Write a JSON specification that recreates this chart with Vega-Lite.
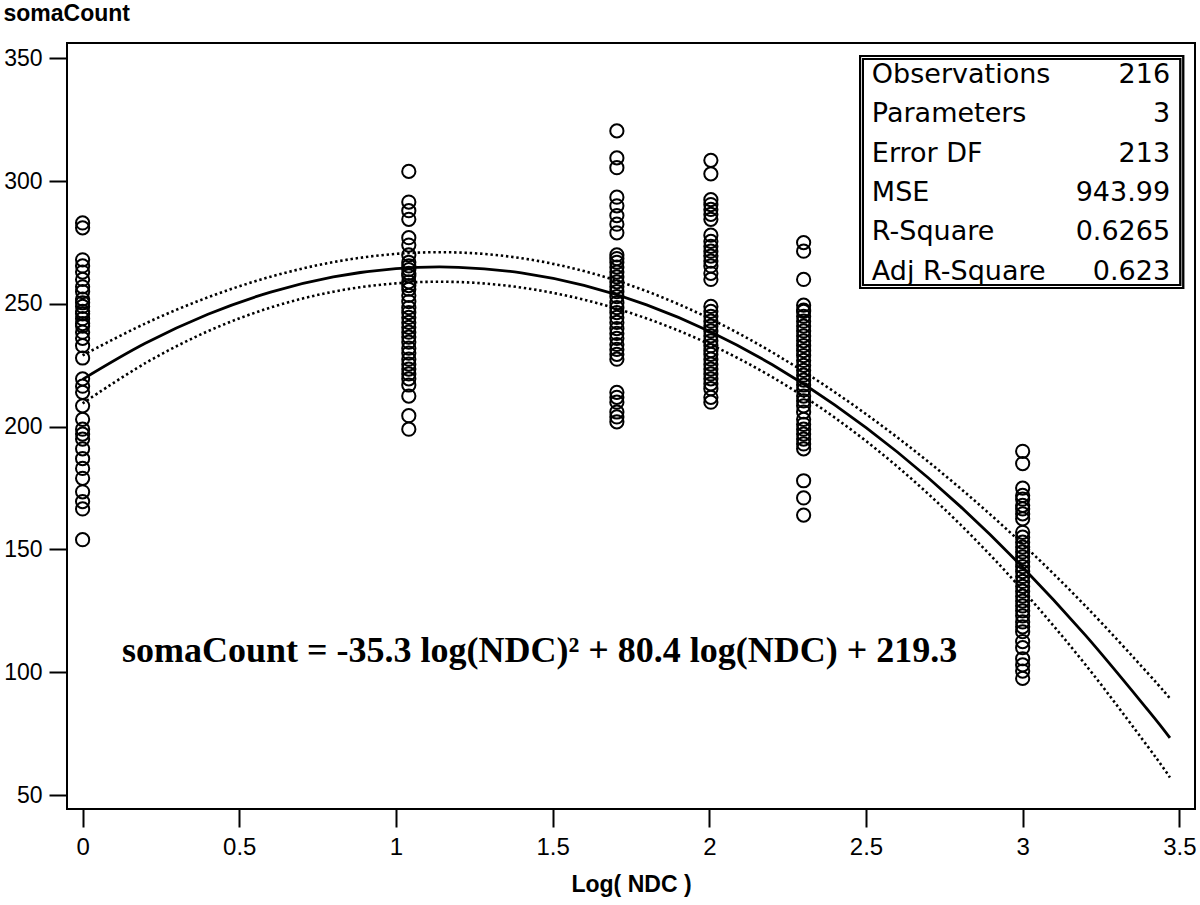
{
"$schema": "https://vega.github.io/schema/vega-lite/v6.json",
"width": 1128, "height": 766,
"autosize": {"type": "none"},
"padding": {"left": 67, "top": 43, "right": 5, "bottom": 96},
"background": "white",
"config": {
 "view": {"stroke": "black", "strokeWidth": 2},
 "axis": {"grid": false, "domain": false, "tickColor": "black", "tickWidth": 2, "tickSize": 18, "labelColor": "black", "labelFont": "Liberation Sans", "labelFontSize": 23, "titleColor": "black", "titleFont": "Liberation Sans", "titleFontWeight": "bold", "titleFontSize": 23}
},
"datasets": {
 "points": [
  {"logNDC":0,"somaCount":283},{"logNDC":0,"somaCount":281},{"logNDC":0,"somaCount":268},{"logNDC":0,"somaCount":265.5},{"logNDC":0,"somaCount":263},{"logNDC":0,"somaCount":260},{"logNDC":0,"somaCount":257},{"logNDC":0,"somaCount":255},{"logNDC":0,"somaCount":252},{"logNDC":0,"somaCount":250.5},{"logNDC":0,"somaCount":249},{"logNDC":0,"somaCount":247},{"logNDC":0,"somaCount":246},{"logNDC":0,"somaCount":244},{"logNDC":0,"somaCount":242},{"logNDC":0,"somaCount":241},{"logNDC":0,"somaCount":238.5},{"logNDC":0,"somaCount":236},{"logNDC":0,"somaCount":233},{"logNDC":0,"somaCount":228},{"logNDC":0,"somaCount":219.5},{"logNDC":0,"somaCount":216.5},{"logNDC":0,"somaCount":214},{"logNDC":0,"somaCount":208.5},{"logNDC":0,"somaCount":203},{"logNDC":0,"somaCount":199},{"logNDC":0,"somaCount":197},{"logNDC":0,"somaCount":195},{"logNDC":0,"somaCount":191},{"logNDC":0,"somaCount":187},{"logNDC":0,"somaCount":183},{"logNDC":0,"somaCount":179},{"logNDC":0,"somaCount":173.5},{"logNDC":0,"somaCount":169.5},{"logNDC":0,"somaCount":166.5},{"logNDC":0,"somaCount":154},
  {"logNDC":1.041,"somaCount":304},{"logNDC":1.041,"somaCount":291.5},{"logNDC":1.041,"somaCount":288},{"logNDC":1.041,"somaCount":284.5},{"logNDC":1.041,"somaCount":277},{"logNDC":1.041,"somaCount":274},{"logNDC":1.041,"somaCount":270},{"logNDC":1.041,"somaCount":267},{"logNDC":1.041,"somaCount":265.5},{"logNDC":1.041,"somaCount":264},{"logNDC":1.041,"somaCount":262.5},{"logNDC":1.041,"somaCount":261.5},{"logNDC":1.041,"somaCount":259},{"logNDC":1.041,"somaCount":257.5},{"logNDC":1.041,"somaCount":256},{"logNDC":1.041,"somaCount":253.5},{"logNDC":1.041,"somaCount":251},{"logNDC":1.041,"somaCount":248.5},{"logNDC":1.041,"somaCount":246.5},{"logNDC":1.041,"somaCount":244.5},{"logNDC":1.041,"somaCount":242.5},{"logNDC":1.041,"somaCount":240.5},{"logNDC":1.041,"somaCount":238.5},{"logNDC":1.041,"somaCount":236.5},{"logNDC":1.041,"somaCount":234.5},{"logNDC":1.041,"somaCount":232},{"logNDC":1.041,"somaCount":230},{"logNDC":1.041,"somaCount":227.5},{"logNDC":1.041,"somaCount":225.5},{"logNDC":1.041,"somaCount":223.5},{"logNDC":1.041,"somaCount":221.5},{"logNDC":1.041,"somaCount":219.5},{"logNDC":1.041,"somaCount":217},{"logNDC":1.041,"somaCount":212.5},{"logNDC":1.041,"somaCount":204.5},{"logNDC":1.041,"somaCount":199},
  {"logNDC":1.705,"somaCount":320.5},{"logNDC":1.705,"somaCount":309.5},{"logNDC":1.705,"somaCount":305.5},{"logNDC":1.705,"somaCount":293.5},{"logNDC":1.705,"somaCount":290},{"logNDC":1.705,"somaCount":286},{"logNDC":1.705,"somaCount":282.5},{"logNDC":1.705,"somaCount":279},{"logNDC":1.705,"somaCount":270},{"logNDC":1.705,"somaCount":268.5},{"logNDC":1.705,"somaCount":267},{"logNDC":1.705,"somaCount":265},{"logNDC":1.705,"somaCount":263},{"logNDC":1.705,"somaCount":261},{"logNDC":1.705,"somaCount":259},{"logNDC":1.705,"somaCount":257},{"logNDC":1.705,"somaCount":255},{"logNDC":1.705,"somaCount":253},{"logNDC":1.705,"somaCount":250.5},{"logNDC":1.705,"somaCount":248.5},{"logNDC":1.705,"somaCount":246.5},{"logNDC":1.705,"somaCount":244.5},{"logNDC":1.705,"somaCount":242.5},{"logNDC":1.705,"somaCount":240},{"logNDC":1.705,"somaCount":238},{"logNDC":1.705,"somaCount":236},{"logNDC":1.705,"somaCount":233.5},{"logNDC":1.705,"somaCount":231.5},{"logNDC":1.705,"somaCount":229.5},{"logNDC":1.705,"somaCount":227.5},{"logNDC":1.705,"somaCount":214},{"logNDC":1.705,"somaCount":212},{"logNDC":1.705,"somaCount":210},{"logNDC":1.705,"somaCount":206},{"logNDC":1.705,"somaCount":204},{"logNDC":1.705,"somaCount":202},
  {"logNDC":2.005,"somaCount":308.5},{"logNDC":2.005,"somaCount":303},{"logNDC":2.005,"somaCount":292.5},{"logNDC":2.005,"somaCount":290.5},{"logNDC":2.005,"somaCount":288.5},{"logNDC":2.005,"somaCount":286.5},{"logNDC":2.005,"somaCount":284.5},{"logNDC":2.005,"somaCount":278},{"logNDC":2.005,"somaCount":275.5},{"logNDC":2.005,"somaCount":273.5},{"logNDC":2.005,"somaCount":271.5},{"logNDC":2.005,"somaCount":269.5},{"logNDC":2.005,"somaCount":267.5},{"logNDC":2.005,"somaCount":265.5},{"logNDC":2.005,"somaCount":262.5},{"logNDC":2.005,"somaCount":260},{"logNDC":2.005,"somaCount":249},{"logNDC":2.005,"somaCount":247},{"logNDC":2.005,"somaCount":245},{"logNDC":2.005,"somaCount":243},{"logNDC":2.005,"somaCount":241},{"logNDC":2.005,"somaCount":239},{"logNDC":2.005,"somaCount":237},{"logNDC":2.005,"somaCount":235},{"logNDC":2.005,"somaCount":233},{"logNDC":2.005,"somaCount":231},{"logNDC":2.005,"somaCount":229.5},{"logNDC":2.005,"somaCount":227.5},{"logNDC":2.005,"somaCount":225.5},{"logNDC":2.005,"somaCount":223.5},{"logNDC":2.005,"somaCount":221.5},{"logNDC":2.005,"somaCount":219.5},{"logNDC":2.005,"somaCount":217.5},{"logNDC":2.005,"somaCount":215.5},{"logNDC":2.005,"somaCount":212},{"logNDC":2.005,"somaCount":210},
  {"logNDC":2.301,"somaCount":275},{"logNDC":2.301,"somaCount":271.5},{"logNDC":2.301,"somaCount":260},{"logNDC":2.301,"somaCount":249.5},{"logNDC":2.301,"somaCount":247.5},{"logNDC":2.301,"somaCount":247},{"logNDC":2.301,"somaCount":245},{"logNDC":2.301,"somaCount":243},{"logNDC":2.301,"somaCount":241},{"logNDC":2.301,"somaCount":239},{"logNDC":2.301,"somaCount":237},{"logNDC":2.301,"somaCount":235},{"logNDC":2.301,"somaCount":233},{"logNDC":2.301,"somaCount":231},{"logNDC":2.301,"somaCount":229},{"logNDC":2.301,"somaCount":227},{"logNDC":2.301,"somaCount":225},{"logNDC":2.301,"somaCount":223},{"logNDC":2.301,"somaCount":221},{"logNDC":2.301,"somaCount":219},{"logNDC":2.301,"somaCount":217},{"logNDC":2.301,"somaCount":215},{"logNDC":2.301,"somaCount":212.5},{"logNDC":2.301,"somaCount":210.5},{"logNDC":2.301,"somaCount":208.5},{"logNDC":2.301,"somaCount":206},{"logNDC":2.301,"somaCount":203},{"logNDC":2.301,"somaCount":201},{"logNDC":2.301,"somaCount":199},{"logNDC":2.301,"somaCount":197},{"logNDC":2.301,"somaCount":195},{"logNDC":2.301,"somaCount":193},{"logNDC":2.301,"somaCount":191},{"logNDC":2.301,"somaCount":178},{"logNDC":2.301,"somaCount":171},{"logNDC":2.301,"somaCount":164},
  {"logNDC":3,"somaCount":190},{"logNDC":3,"somaCount":185},{"logNDC":3,"somaCount":175},{"logNDC":3,"somaCount":172},{"logNDC":3,"somaCount":170.5},{"logNDC":3,"somaCount":168},{"logNDC":3,"somaCount":166.5},{"logNDC":3,"somaCount":164.5},{"logNDC":3,"somaCount":162.5},{"logNDC":3,"somaCount":157},{"logNDC":3,"somaCount":155},{"logNDC":3,"somaCount":153},{"logNDC":3,"somaCount":151},{"logNDC":3,"somaCount":149},{"logNDC":3,"somaCount":147},{"logNDC":3,"somaCount":145},{"logNDC":3,"somaCount":143},{"logNDC":3,"somaCount":141},{"logNDC":3,"somaCount":139},{"logNDC":3,"somaCount":137},{"logNDC":3,"somaCount":135},{"logNDC":3,"somaCount":133},{"logNDC":3,"somaCount":131},{"logNDC":3,"somaCount":129},{"logNDC":3,"somaCount":127},{"logNDC":3,"somaCount":125},{"logNDC":3,"somaCount":123},{"logNDC":3,"somaCount":120.5},{"logNDC":3,"somaCount":118.5},{"logNDC":3,"somaCount":116.5},{"logNDC":3,"somaCount":112.5},{"logNDC":3,"somaCount":110},{"logNDC":3,"somaCount":105.5},{"logNDC":3,"somaCount":103},{"logNDC":3,"somaCount":100.5},{"logNDC":3,"somaCount":97.5}
 ],
 "curve": [
  {"logNDC":0,"fit":219.30,"lower":209.51,"upper":229.09},
  {"logNDC":0.2,"fit":233.97,"lower":225.90,"upper":242.04},
  {"logNDC":0.4,"fit":245.81,"lower":238.90,"upper":252.72},
  {"logNDC":0.6,"fit":254.83,"lower":248.56,"upper":261.10},
  {"logNDC":0.8,"fit":261.03,"lower":255.00,"upper":267.06},
  {"logNDC":1.0,"fit":264.40,"lower":258.40,"upper":270.40},
  {"logNDC":1.2,"fit":264.95,"lower":258.93,"upper":270.97},
  {"logNDC":1.4,"fit":262.67,"lower":256.69,"upper":268.65},
  {"logNDC":1.6,"fit":257.57,"lower":251.75,"upper":263.39},
  {"logNDC":1.8,"fit":249.65,"lower":244.10,"upper":255.20},
  {"logNDC":2.0,"fit":238.90,"lower":233.66,"upper":244.14},
  {"logNDC":2.2,"fit":225.33,"lower":220.29,"upper":230.37},
  {"logNDC":2.4,"fit":208.93,"lower":203.74,"upper":214.12},
  {"logNDC":2.6,"fit":189.71,"lower":183.77,"upper":195.65},
  {"logNDC":2.8,"fit":167.67,"lower":160.31,"upper":175.03},
  {"logNDC":3.0,"fit":142.80,"lower":133.41,"upper":152.19},
  {"logNDC":3.2,"fit":115.11,"lower":103.17,"upper":127.05},
  {"logNDC":3.4,"fit":84.59,"lower":69.63,"upper":99.55},
  {"logNDC":3.47,"fit":73.24,"lower":57.14,"upper":89.34}
 ],
 "stats": [
  {"row":0,"label":"Observations","value":"216"},
  {"row":1,"label":"Parameters","value":"3"},
  {"row":2,"label":"Error DF","value":"213"},
  {"row":3,"label":"MSE","value":"943.99"},
  {"row":4,"label":"R-Square","value":"0.6265"},
  {"row":5,"label":"Adj R-Square","value":"0.623"}
 ]
},
"layer": [
 {"layer": [
  {"data": {"name": "points"},
   "mark": {"type": "point", "shape": "circle", "filled": false, "color": "black", "strokeWidth": 2, "size": 175, "opacity": 1},
   "encoding": {
    "x": {"field": "logNDC", "type": "quantitative", "scale": {"domain": [-0.0498, 3.55], "nice": false, "zero": false}, "axis": {"values": [0,0.5,1,1.5,2,2.5,3,3.5], "format": "~g", "title": "Log( NDC )", "labelPadding": 8, "titlePadding": 14, "labelFlush": false, "labelFontSize": 24}},
    "y": {"field": "somaCount", "type": "quantitative", "scale": {"domain": [44.3, 356.3], "nice": false, "zero": false}, "axis": {"values": [50,100,150,200,250,300,350], "title": "somaCount", "titleAngle": 0, "titleAlign": "left", "titleBaseline": "alphabetic", "titleX": -64, "titleY": -23, "labelPadding": 7}}
   }},
  {"data": {"name": "curve"},
   "mark": {"type": "line", "color": "black", "strokeWidth": 2.8, "interpolate": "cardinal"},
   "encoding": {"x": {"field": "logNDC", "type": "quantitative"}, "y": {"field": "fit", "type": "quantitative"}}},
  {"data": {"name": "curve"},
   "mark": {"type": "line", "color": "black", "strokeWidth": 2.6, "strokeDash": [2.4, 2.8], "interpolate": "cardinal"},
   "encoding": {"x": {"field": "logNDC", "type": "quantitative"}, "y": {"field": "lower", "type": "quantitative"}}},
  {"data": {"name": "curve"},
   "mark": {"type": "line", "color": "black", "strokeWidth": 2.6, "strokeDash": [2.4, 2.8], "interpolate": "cardinal"},
   "encoding": {"x": {"field": "logNDC", "type": "quantitative"}, "y": {"field": "upper", "type": "quantitative"}}},
  {"data": {"values": [{"equation": "somaCount = -35.3 log(NDC)² + 80.4 log(NDC) + 219.3"}]},
   "mark": {"type": "text", "align": "left", "baseline": "alphabetic", "font": "Liberation Serif", "fontWeight": "bold", "fontSize": 36, "color": "black"},
   "encoding": {"x": {"datum": 0.1257, "type": "quantitative"}, "y": {"datum": 104.3, "type": "quantitative"}, "text": {"field": "equation"}}}
 ]},
 {"data": {"name": "stats"},
  "layer": [
   {"mark": {"type": "rect", "fill": "white", "stroke": "black", "strokeWidth": 2},
    "encoding": {"x": {"datum": 2.4815, "type": "quantitative"}, "x2": {"datum": 3.512}, "y": {"datum": -0.483, "type": "quantitative", "axis": null}, "y2": {"datum": 5.416}}},
   {"mark": {"type": "rect", "filled": false, "stroke": "black", "strokeWidth": 1.4},
    "encoding": {"x": {"datum": 2.4901, "type": "quantitative"}, "x2": {"datum": 3.5034}, "y": {"datum": -0.414, "type": "quantitative", "axis": null}, "y2": {"datum": 5.347}}},
   {"mark": {"type": "text", "align": "left", "baseline": "middle", "font": "DejaVu Sans", "fontSize": 27, "color": "black"},
    "encoding": {"x": {"datum": 2.5188, "type": "quantitative"}, "y": {"field": "row", "type": "quantitative", "scale": {"domain": [-0.8136, 18.662], "reverse": true, "nice": false, "zero": false}, "axis": null}, "text": {"field": "label"}}},
   {"mark": {"type": "text", "align": "right", "baseline": "middle", "font": "DejaVu Sans", "fontSize": 27, "color": "black"},
    "encoding": {"x": {"datum": 3.4707, "type": "quantitative"}, "y": {"field": "row", "type": "quantitative", "axis": null}, "text": {"field": "value"}}}
  ]}
],
"resolve": {"scale": {"y": "independent"}}
}
